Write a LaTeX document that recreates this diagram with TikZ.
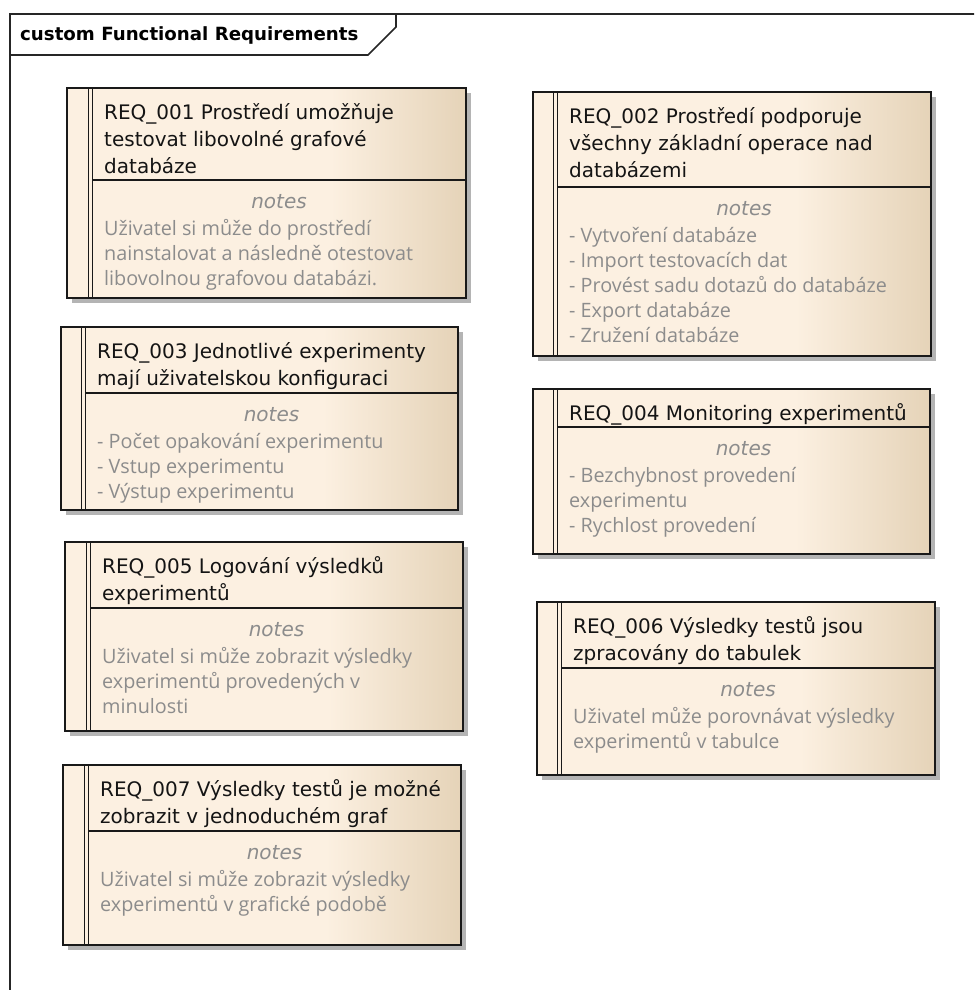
\documentclass[tikz,border=0pt]{standalone}
\usepackage{fontspec}
\newfontfamily\hfont{DejaVu Sans}
\newfontfamily\nfont{Open Sans}
\definecolor{reqcream}{RGB}{252,240,225}
\definecolor{reqtan}{RGB}{229,211,184}
\definecolor{notegray}{RGB}{140,140,140}
\definecolor{hdrblack}{RGB}{20,20,20}
\definecolor{shadowgray}{RGB}{180,180,180}
\pgfdeclarehorizontalshading{reqshade}{100bp}{color(0bp)=(reqcream); color(25bp)=(reqcream); color(58bp)=(reqcream); color(75bp)=(reqtan); color(100bp)=(reqtan)}
\tikzset{
  frameline/.style={draw=black!85, line width=1.6pt},
  boxline/.style={draw=black!90, line width=1.4pt},
  stripeline/.style={draw=black!90, line width=0.9pt},
  hdr/.style={font=\hfont\fontsize{20}{24}\selectfont, text=hdrblack, inner sep=0pt},
  notelabel/.style={font=\hfont\itshape\fontsize{20}{24}\selectfont, text=notegray, inner sep=0pt},
  note/.style={font=\nfont\fontsize{19.8}{24}\selectfont, text=notegray, inner sep=0pt},
  titletext/.style={font=\hfont\bfseries\fontsize{18.2}{22}\selectfont, text=black, inner sep=0pt}
}
% #1 name, #2 left, #3 top, #4 right, #5 bottom, #6 stripe x, #7 divider y, #8 header lines, #9 note lines
\newcommand\reqbox[9]{%
  \fill[shadowgray] ({#2+5},{#3+5}) rectangle ({#4+5},{#5+5});
  \shade[shading=reqshade] (#2,#3) rectangle (#4,#5);
  \draw[boxline] (#2,#3) rectangle (#4,#5);
  \draw[stripeline] (#6,#3) -- (#6,#5);
  \draw[stripeline] ({#6+4},#3) -- ({#6+4},#5);
  \draw[boxline] ({#6+4},#7) -- (#4,#7);
  \foreach \txt [count=\i] in {#8} {\node[hdr, anchor=base west] (#1h\i) at ({#6+16},{#3+24+(\i-1)*27+7}) {\txt};}
  \node[notelabel, anchor=base] (#1notes) at ({(#6+4+#4)/2},{#7+22+6}) {notes};
  \foreach \txt [count=\i] in {#9} {\node[note, anchor=base west] (#1n\i) at ({#6+16},{#7+49+(\i-1)*25+6}) {\txt};}
}
\begin{document}
\begin{tikzpicture}[x=1pt,y=-1pt]
\useasboundingbox (0,0) rectangle (974,990);
\clip (0,0) rectangle (974,990);
\fill[white] (0,0) rectangle (974,990);
% frame
\draw[frameline] (10,1000) -- (10,14) -- (990,14);
\draw[frameline] (10,55) -- (368,55) -- (396,27) -- (396,14);
\node[titletext, anchor=base west] (title) at (20,41) {custom Functional Requirements};
% requirements
\reqbox{b1}{67}{88}{466}{298}{88}{180}
  {REQ\_001 Prostředí umožňuje, testovat libovolné grafové, databáze}
  {Uživatel si může do prostředí, nainstalovat a následně otestovat, libovolnou grafovou databázi.}
\reqbox{b2}{533}{92}{931}{356}{553}{187}
  {REQ\_002 Prostředí podporuje, všechny základní operace nad, databázemi}
  {- Vytvoření databáze, - Import testovacích dat, - Provést sadu dotazů do databáze, - Export databáze, - Zružení databáze}
\reqbox{b3}{61}{327}{458}{510}{81}{393}
  {REQ\_003 Jednotlivé experimenty, mají uživatelskou konfiguraci}
  {- Počet opakování experimentu, - Vstup experimentu, - Výstup experimentu}
\reqbox{b4}{533}{389}{930}{554}{553}{427}
  {REQ\_004 Monitoring experimentů}
  {- Bezchybnost provedení, experimentu, - Rychlost provedení}
\reqbox{b5}{65}{542}{463}{731}{86}{608}
  {REQ\_005 Logování výsledků, experimentů}
  {Uživatel si může zobrazit výsledky, experimentů provedených v, minulosti}
\reqbox{b6}{537}{602}{935}{775}{557}{668}
  {REQ\_006 Výsledky testů jsou, zpracovány do tabulek}
  {Uživatel může porovnávat výsledky, experimentů v tabulce}
\reqbox{b7}{63}{765}{461}{945}{84}{831}
  {REQ\_007 Výsledky testů je možné, zobrazit v jednoduchém graf}
  {Uživatel si může zobrazit výsledky, experimentů v grafické podobě}
\end{tikzpicture}
\end{document}
